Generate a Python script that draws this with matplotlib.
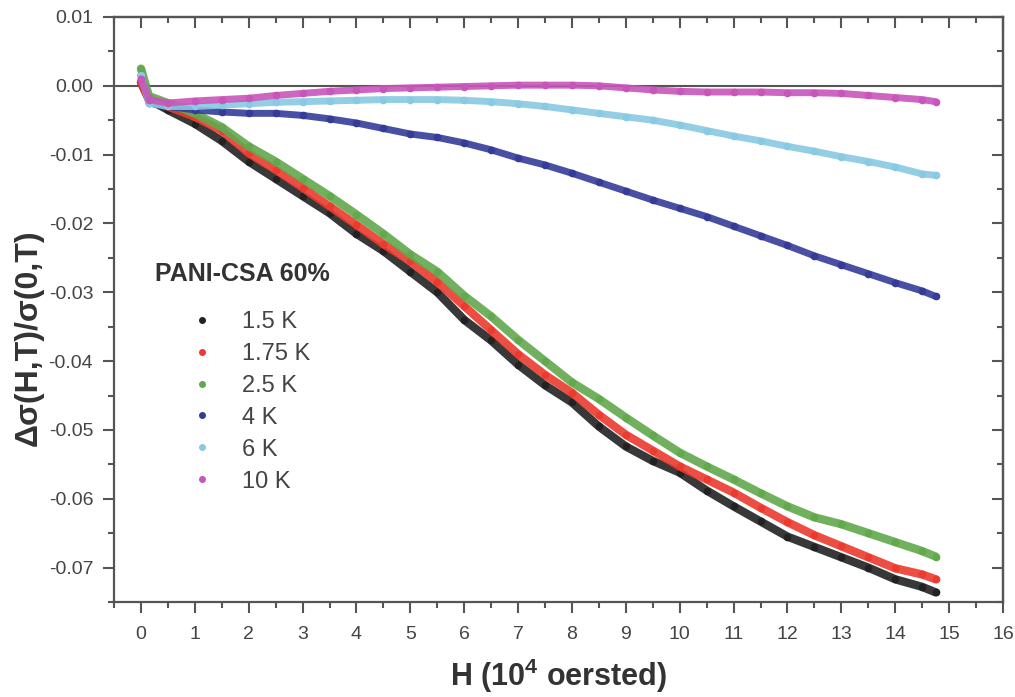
import matplotlib
matplotlib.use("Agg")
import matplotlib.pyplot as plt
from matplotlib.ticker import MultipleLocator, FormatStrFormatter
from matplotlib.lines import Line2D

plt.rcParams['font.family'] = ['Liberation Sans', 'DejaVu Sans']
plt.rcParams['axes.unicode_minus'] = False
plt.rcParams['mathtext.fontset'] = 'custom'
plt.rcParams['mathtext.rm'] = 'Liberation Sans'
plt.rcParams['mathtext.bf'] = 'Liberation Sans:bold'

# ---- data, field in 10^4 Oe, values x 1e-3 ----
H = [0, 0.15, 0.5, 1, 1.5, 2, 2.5, 3, 3.5, 4, 4.5, 5, 5.5, 6, 6.5, 7, 7.5, 8, 8.5,
     9, 9.5, 10, 10.5, 11, 11.5, 12, 12.5, 13, 13.5, 14, 14.5, 14.75]

k1_5 = [0.5, -2.0, -3.5, -5.5, -8.0, -11.0, -13.5, -16.0, -18.5, -21.5, -24.0, -27.0,
        -30.0, -34.0, -37.0, -40.5, -43.5, -46.0, -49.5, -52.4, -54.5, -56.2,
        -58.8, -61.1, -63.3, -65.5, -67.0, -68.5, -70.0, -71.7, -72.8, -73.6]
k1_75 = [0.5, -2.0, -3.0, -4.5, -6.5, -9.8, -12.2, -14.8, -17.5, -20.2, -23.0, -25.5,
         -28.5, -32.0, -35.5, -39.0, -42.0, -44.6, -47.8, -50.7, -53.0, -55.3,
         -57.2, -59.1, -61.3, -63.4, -65.3, -66.9, -68.5, -70.1, -71.0, -71.7]
k2_5 = [2.5, -1.5, -2.5, -4.0, -6.0, -8.8, -11.0, -13.5, -16.0, -18.7, -21.5, -24.5,
        -27.0, -30.5, -33.5, -36.9, -40.0, -43.1, -45.5, -48.2, -50.8, -53.3,
        -55.3, -57.2, -59.2, -61.1, -62.7, -63.7, -65.0, -66.3, -67.6, -68.4]
k4 = [1.5, -2.5, -3.0, -3.5, -3.8, -4.0, -4.0, -4.3, -4.8, -5.4, -6.2, -7.0,
      -7.5, -8.3, -9.3, -10.5, -11.5, -12.7, -14.0, -15.3, -16.6, -17.8,
      -19.0, -20.4, -21.8, -23.2, -24.7, -26.0, -27.3, -28.6, -29.8, -30.6]
k6 = [1.5, -2.5, -3.0, -3.0, -2.8, -2.6, -2.4, -2.3, -2.2, -2.1, -2.0, -2.0,
      -2.0, -2.1, -2.3, -2.6, -3.0, -3.5, -4.0, -4.5, -5.0, -5.7,
      -6.5, -7.3, -8.0, -8.8, -9.5, -10.3, -11.0, -11.8, -12.8, -13.0]
k10 = [1.0, -2.0, -2.5, -2.2, -2.0, -1.8, -1.4, -1.1, -0.8, -0.6, -0.4, -0.3,
       -0.2, -0.1, 0.0, 0.1, 0.1, 0.1, 0.0, -0.3, -0.6, -0.8,
       -0.9, -0.9, -0.9, -1.0, -1.0, -1.1, -1.4, -1.7, -2.0, -2.3]

labels = ['1.5 K', '1.75 K', '2.5 K', '4 K', '6 K', '10 K']
series = [k1_5, k1_75, k2_5, k4, k6, k10]
colors = ['#222222', '#ec3b2e', '#62a84c', '#353c98', '#88c9e3', '#c855b9']
title_text = 'PANI-CSA 60%'
xticks = list(range(0, 17))
yticks = [0.01, 0.0, -0.01, -0.02, -0.03, -0.04, -0.05, -0.06, -0.07]

fig = plt.figure(figsize=(10.15, 6.97), dpi=100)
ax = fig.add_axes([114/1015, 1 - 602/697, (1003-114)/1015, (602-17)/697])

axc = '#555555'
ax.axhline(0, color=axc, lw=1.5, zorder=1)

draw_order = [5, 4, 3, 0, 2, 1]
for i in draw_order:
    vals = [v * 1e-3 for v in series[i]]
    lw = 6.0 if i < 3 else 5.0
    ax.plot(H, vals, color=colors[i], lw=lw, alpha=0.9,
            solid_capstyle='round', solid_joinstyle='round', zorder=2 + i)
    ax.plot(H, vals, linestyle='none', marker='o', ms=4.5, color=colors[i],
            zorder=2 + i)

ax.set_xticks(xticks)
ax.set_yticks(yticks)
ax.xaxis.set_minor_locator(MultipleLocator(0.5))
ax.yaxis.set_minor_locator(MultipleLocator(0.005))
ax.yaxis.set_major_formatter(FormatStrFormatter('%.2f'))
ax.set_xlim(-0.5, 16)
ax.set_ylim(-0.075, 0.01)

for s in ax.spines.values():
    s.set_color(axc)
    s.set_linewidth(1.6)

ax.tick_params(which='major', direction='out', length=8, width=1.5,
               color=axc, labelcolor='#444444', labelsize=14)
ax.tick_params(which='minor', direction='out', length=4.5, width=1.5, color=axc)
ax.tick_params(axis='y', which='major', pad=7)
ax.tick_params(axis='x', which='major', pad=9)

# inward ticks on top and right
top = ax.secondary_xaxis('top')
top.xaxis.set_major_locator(MultipleLocator(1))
top.xaxis.set_minor_locator(MultipleLocator(0.5))
top.tick_params(which='major', direction='in', length=8, width=1.5, color=axc,
                labeltop=False)
top.tick_params(which='minor', direction='in', length=4.5, width=1.5, color=axc)
top.spines['top'].set_color(axc)
top.spines['top'].set_linewidth(1.6)
right = ax.secondary_yaxis('right')
right.yaxis.set_major_locator(MultipleLocator(0.01))
right.yaxis.set_minor_locator(MultipleLocator(0.005))
right.tick_params(which='major', direction='in', length=8, width=1.5, color=axc,
                  labelright=False)
right.tick_params(which='minor', direction='in', length=4.5, width=1.5, color=axc)
right.spines['right'].set_color(axc)
right.spines['right'].set_linewidth(1.6)

ax.set_xlabel(r'H (10$^{\mathbf{4}}$ oersted)', fontsize=22, fontweight='bold',
              color='#333333', labelpad=10)
ax.set_ylabel('Δσ(H,T)/σ(0,T)', fontsize=23, fontweight='bold', color='#333333')
ax.yaxis.set_label_coords((44 - 114) / 889, (602 - 338) / 585)

ax.text((155 - 114) / 889, (602 - 274) / 585, title_text, transform=ax.transAxes,
        fontsize=18, fontweight='bold', color='#333333', ha='left', va='center')

handles = [Line2D([], [], linestyle='none', marker='o', ms=4, color=c) for c in colors]
leg = ax.legend(handles, labels, loc='upper left',
                bbox_to_anchor=((190 - 114) / 889, (602 - 311) / 585),
                frameon=False, fontsize=17, handlelength=1.0, handletextpad=1.2,
                labelspacing=0.42, borderpad=0, borderaxespad=0)
for t in leg.get_texts():
    t.set_color('#444444')

fig.savefig('out.png', dpi=100)
